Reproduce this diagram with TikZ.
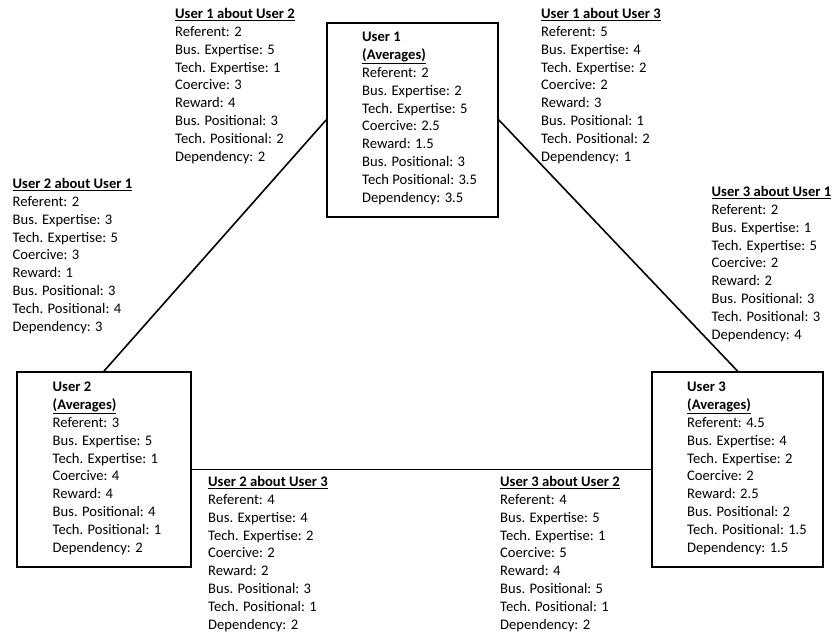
\documentclass[tikz,border=0pt]{standalone}
\usepackage{fontspec}
\setmainfont{Carlito}
\begin{document}
\begin{tikzpicture}[x=1pt,y=-1pt,
  txt/.style={font=\fontsize{14.6}{17.8}\selectfont, align=left, inner sep=0pt, anchor=base west},
  userbox/.style={draw, line width=1.8pt, inner sep=0pt},
  link/.style={line width=1.6pt}]
\useasboundingbox (0,0) rectangle (837,632);

\node[userbox, minimum width=171pt, minimum height=194pt] (u1) at (412.5,120) {};
\node[userbox, minimum width=174pt, minimum height=195pt] (u2) at (104,469.5) {};
\node[userbox, minimum width=171pt, minimum height=195pt] (u3) at (737.5,469.5) {};

\node[txt] (u1t) at (362,202)
 {\textbf{User 1}\\\textbf{\underline{(Averages)}}\\Referent: 2\\Bus. Expertise: 2\\Tech. Expertise: 5\\Coercive: 2.5\\Reward: 1.5\\Bus. Positional: 3\\Tech Positional: 3.5\\Dependency: 3.5};
\node[txt] (u2t) at (52.5,552)
 {\textbf{User 2}\\\textbf{\underline{(Averages)}}\\Referent: 3\\Bus. Expertise: 5\\Tech. Expertise: 1\\Coercive: 4\\Reward: 4\\Bus. Positional: 4\\Tech. Positional: 1\\Dependency: 2};
\node[txt] (u3t) at (687,552)
 {\textbf{User 3}\\\textbf{\underline{(Averages)}}\\Referent: 4.5\\Bus. Expertise: 4\\Tech. Expertise: 2\\Coercive: 2\\Reward: 2.5\\Bus. Positional: 2\\Tech. Positional: 1.5\\Dependency: 1.5};

\draw[link] (u1.west) -- (u2.north);
\draw[link] (u1.east) -- (u3.north);
\draw[link] (u2.east) -- (u3.west);

\node[txt] (a12) at (175,161)
 {\textbf{\underline{User 1 about User 2}}\\Referent: 2\\Bus. Expertise: 5\\Tech. Expertise: 1\\Coercive: 3\\Reward: 4\\Bus. Positional: 3\\Tech. Positional: 2\\Dependency: 2};
\node[txt] (a13) at (541,161)
 {\textbf{\underline{User 1 about User 3}}\\Referent: 5\\Bus. Expertise: 4\\Tech. Expertise: 2\\Coercive: 2\\Reward: 3\\Bus. Positional: 1\\Tech. Positional: 2\\Dependency: 1};
\node[txt] (a21) at (12.5,331)
 {\textbf{\underline{User 2 about User 1}}\\Referent: 2\\Bus. Expertise: 3\\Tech. Expertise: 5\\Coercive: 3\\Reward: 1\\Bus. Positional: 3\\Tech. Positional: 4\\Dependency: 3};
\node[txt] (a31) at (711.5,339)
 {\textbf{\underline{User 3 about User 1}}\\Referent: 2\\Bus. Expertise: 1\\Tech. Expertise: 5\\Coercive: 2\\Reward: 2\\Bus. Positional: 3\\Tech. Positional: 3\\Dependency: 4};
\node[txt] (a23) at (208,629)
 {\textbf{\underline{User 2 about User 3}}\\Referent: 4\\Bus. Expertise: 4\\Tech. Expertise: 2\\Coercive: 2\\Reward: 2\\Bus. Positional: 3\\Tech. Positional: 1\\Dependency: 2};
\node[txt] (a32) at (500,629)
 {\textbf{\underline{User 3 about User 2}}\\Referent: 4\\Bus. Expertise: 5\\Tech. Expertise: 1\\Coercive: 5\\Reward: 4\\Bus. Positional: 5\\Tech. Positional: 1\\Dependency: 2};
\end{tikzpicture}
\end{document}
